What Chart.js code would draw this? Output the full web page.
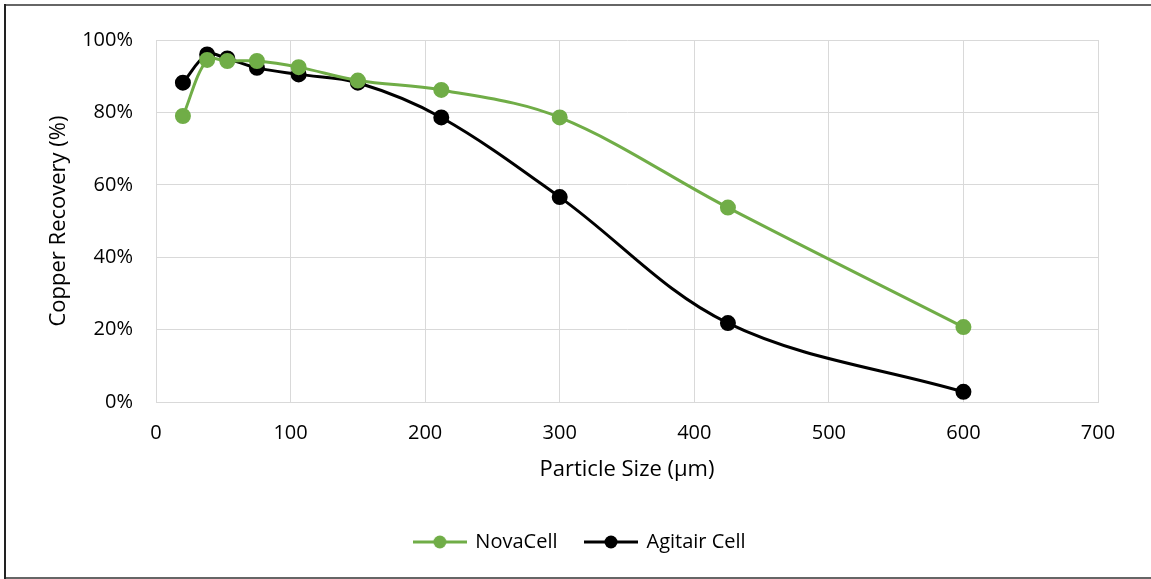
<!DOCTYPE html>
<html>
<head>
<meta charset="utf-8">
<script src="https://cdn.jsdelivr.net/npm/chart.js@4/dist/chart.umd.min.js"></script>
<style>
  html, body { margin: 0; padding: 0; background: #fff; }
  #wrap { width: 1151px; height: 579px; }
</style>
</head>
<body>
<div id="wrap"><canvas id="recoveryChart"></canvas></div>
<script>
const particleSizes = [20, 38, 53, 75, 106, 150, 212, 300, 425, 600];
const novaCell = [79.0, 94.5, 94.2, 94.2, 92.5, 88.8, 86.2, 78.6, 53.7, 20.7];
const agitairCell = [88.2, 96.0, 94.9, 92.3, 90.5, 88.2, 78.6, 56.6, 21.8, 2.8];
const xTicks = [0, 100, 200, 300, 400, 500, 600, 700];
const yTicks = [0, 20, 40, 60, 80, 100];

const FONT = "'Open Sans', sans-serif";

// legend marker: short line with a dot in the middle
const legendMarker = (color) => {
  const c = document.createElement("canvas");
  c.width = 54;
  c.height = 16;
  const g = c.getContext("2d");
  g.strokeStyle = color;
  g.lineWidth = 3;
  g.beginPath();
  g.moveTo(0, 8);
  g.lineTo(54, 8);
  g.stroke();
  g.fillStyle = color;
  g.beginPath();
  g.arc(27, 8, 6.5, 0, Math.PI * 2);
  g.fill();
  return c;
};

const frame = {
  id: "frame",
  afterLayout(chart) {
    // legend sits a little right of centre in the original
    chart.legend.left += 8;
    chart.legend.right += 8;
  },
  beforeDraw(chart) {
    const g = chart.ctx;
    g.save();
    g.fillStyle = "#fff";
    g.fillRect(0, 0, chart.width, chart.height);
    g.lineWidth = 2;
    g.strokeStyle = "#666";
    g.beginPath();
    g.moveTo(4, 5);
    g.lineTo(chart.width, 5);
    g.moveTo(4, 578);
    g.lineTo(chart.width, 578);
    g.stroke();
    g.strokeStyle = "#222";
    g.beginPath();
    g.moveTo(5, 4);
    g.lineTo(5, 579);
    g.stroke();
    g.restore();
  },
};

const toPoints = (ys) => particleSizes.map((x, i) => ({ x, y: ys[i] }));

const ctx = document.getElementById("recoveryChart").getContext("2d");
new Chart(ctx, {
  type: "line",
  data: {
    datasets: [
      {
        label: "NovaCell",
        data: toPoints(novaCell),
        borderColor: "#70AD47",
        backgroundColor: "#70AD47",
        borderWidth: 3,
        pointRadius: 6.5,
        pointHoverRadius: 6.5,
        tension: 0.35,
        pointStyle: "circle",
      },
      {
        label: "Agitair Cell",
        data: toPoints(agitairCell),
        borderColor: "#000",
        backgroundColor: "#000",
        borderWidth: 3,
        pointRadius: 6.5,
        pointHoverRadius: 6.5,
        tension: 0.35,
        pointStyle: "circle",
      },
    ],
  },
  options: {
    responsive: true,
    maintainAspectRatio: false,
    animation: false,
    layout: { padding: { left: 46, right: 53, top: 40, bottom: 17 } },
    plugins: {
      tooltip: { enabled: false },
      legend: {
        position: "bottom",
        labels: {
          color: "#000",
          font: { family: FONT, size: 20 },
          usePointStyle: true,
          pointStyleWidth: 51,
          padding: 28,
          generateLabels: (chart) =>
            chart.data.datasets.map((ds, i) => ({
              text: ds.label,
              fontColor: "#000",
              pointStyle: legendMarker(ds.borderColor),
              strokeStyle: ds.borderColor,
              fillStyle: ds.borderColor,
              lineWidth: 0,
              datasetIndex: i,
            })),
        },
      },
    },
    scales: {
      x: {
        type: "linear",
        min: 0,
        max: 700,
        afterBuildTicks: (axis) => {
          axis.ticks = xTicks.map((v) => ({ value: v }));
        },
        afterFit: (axis) => {
          axis.height = 102;
        },
        grid: { color: "#d9d9d9", lineWidth: 1, drawTicks: false },
        border: { color: "#d9d9d9" },
        ticks: {
          color: "#000",
          font: { family: FONT, size: 20 },
          padding: 19,
          maxRotation: 0,
        },
        title: {
          display: true,
          text: "Particle Size (μm)",
          color: "#000",
          font: { family: FONT, size: 22 },
          padding: { top: 0, bottom: 21 },
        },
      },
      y: {
        min: 0,
        max: 100,
        afterBuildTicks: (axis) => {
          axis.ticks = yTicks.map((v) => ({ value: v }));
        },
        afterFit: (axis) => {
          axis.width = 110;
        },
        grid: { color: "#d9d9d9", lineWidth: 1, drawTicks: false },
        border: { color: "#d9d9d9" },
        ticks: {
          color: "#000",
          font: { family: FONT, size: 20 },
          padding: 23,
          callback: (v) => v + "%",
        },
        title: {
          display: true,
          text: "Copper Recovery (%)",
          color: "#000",
          font: { family: FONT, size: 22 },
          padding: { top: 0, bottom: 0 },
        },
      },
    },
  },
  plugins: [frame],
});
</script>
</body>
</html>
